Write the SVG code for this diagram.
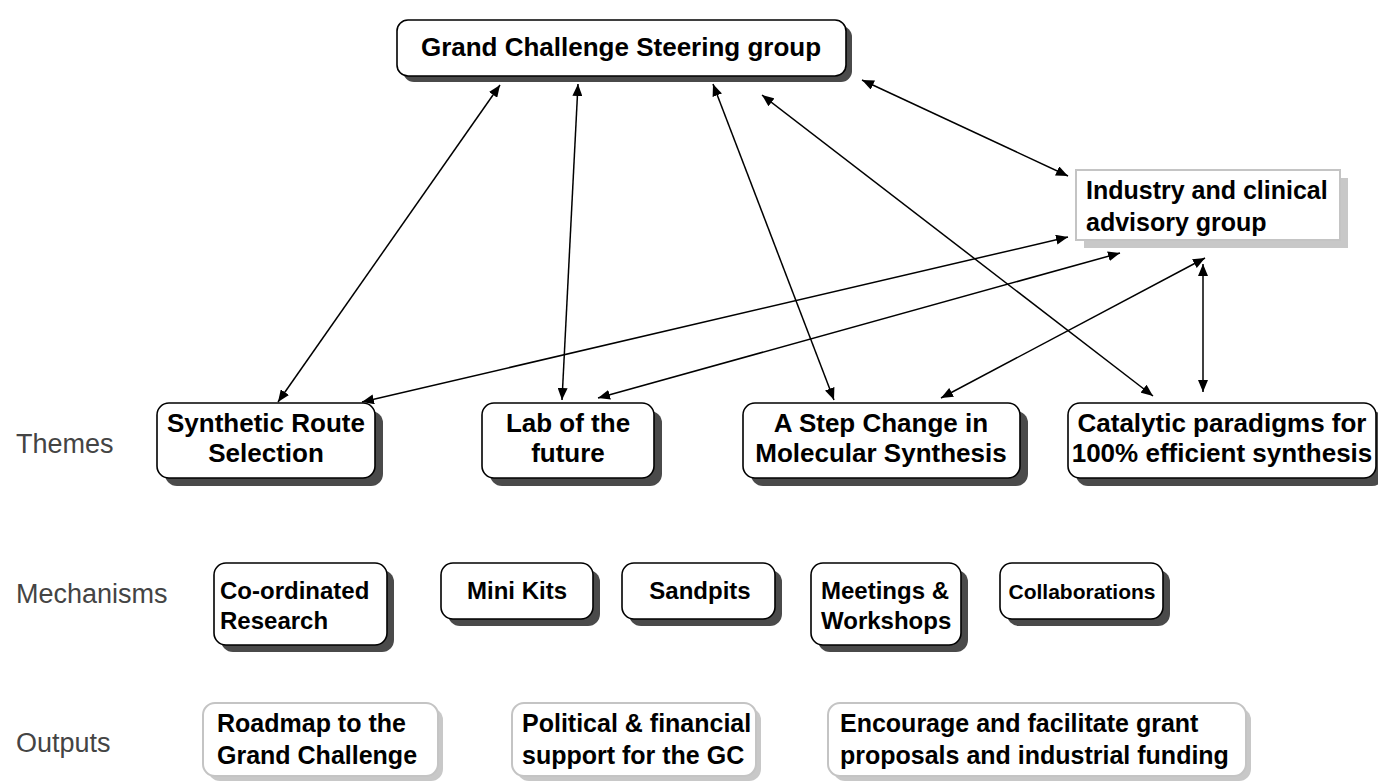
<svg xmlns="http://www.w3.org/2000/svg" width="1378" height="783" viewBox="0 0 1378 783">
<defs>
<marker id="ah" viewBox="0 0 12 10" refX="12" refY="5" markerWidth="12" markerHeight="10" markerUnits="userSpaceOnUse" orient="auto-start-reverse">
<path d="M0,0 L12,5 L0,10 Z" fill="#000"/>
</marker>
<style>
.box{fill:#fff;stroke:#000;stroke-width:1.6}
.sh{fill:#4a4a4a}
.obox{fill:#fff;stroke:#c4c4c4;stroke-width:2}
.osh{fill:#c8c8c8}
.t{font-family:"Liberation Sans",Arial,sans-serif;font-weight:bold;font-size:26px;fill:#000}
.m{font-size:24px}
.o{font-size:25px}
.lab{font-family:"Liberation Sans",Arial,sans-serif;font-size:27px;fill:#444}
.c{stroke:#000;stroke-width:1.5;fill:none;marker-start:url(#ah);marker-end:url(#ah)}
</style>
</defs>
<rect width="1378" height="783" fill="#fff"/>

<g id="connectors">
<line class="c" x1="500" y1="85" x2="278" y2="402"/>
<line class="c" x1="578" y1="84" x2="562" y2="400"/>
<line class="c" x1="713" y1="84" x2="834" y2="400"/>
<line class="c" x1="762" y1="95" x2="1153" y2="396"/>
<line class="c" x1="862" y1="80" x2="1068" y2="176"/>
<line class="c" x1="1068" y1="237" x2="362" y2="402"/>
<line class="c" x1="1120" y1="253" x2="598" y2="398"/>
<line class="c" x1="1205" y1="258" x2="941" y2="398"/>
<line class="c" x1="1203" y1="264" x2="1203" y2="392"/>
</g>

<g id="steering">
<rect class="sh" x="403" y="26" width="449" height="56" rx="11"/>
<rect class="box" x="397" y="20" width="449" height="56" rx="11"/>
<text class="t" x="621" y="56" text-anchor="middle">Grand Challenge Steering group</text>
</g>

<g id="advisory">
<rect class="osh" x="1084" y="178" width="264" height="70"/>
<rect class="obox" x="1076" y="170" width="264" height="70"/>
<text class="t" x="1086" y="199" style="font-size:25px">Industry and clinical</text>
<text class="t" x="1086" y="231" style="font-size:25px">advisory group</text>
</g>

<g id="label-themes"><text class="lab" x="16" y="453">Themes</text></g>
<g id="label-mechanisms"><text class="lab" x="16" y="603">Mechanisms</text></g>
<g id="label-outputs"><text class="lab" x="16" y="752">Outputs</text></g>

<g id="synthetic">
<rect class="sh" x="165" y="411" width="218" height="75" rx="12"/>
<rect class="box" x="157" y="403" width="218" height="75" rx="12"/>
<text class="t" x="266" y="432" text-anchor="middle">Synthetic Route</text>
<text class="t" x="266" y="462" text-anchor="middle">Selection</text>
</g>

<g id="lab">
<rect class="sh" x="490" y="411" width="172" height="75" rx="12"/>
<rect class="box" x="482" y="403" width="172" height="75" rx="12"/>
<text class="t" x="568" y="432" text-anchor="middle">Lab of the</text>
<text class="t" x="568" y="462" text-anchor="middle">future</text>
</g>

<g id="stepchange">
<rect class="sh" x="751" y="411" width="277" height="75" rx="12"/>
<rect class="box" x="743" y="403" width="277" height="75" rx="12"/>
<text class="t" x="881" y="432" text-anchor="middle">A Step Change in</text>
<text class="t" x="881" y="462" text-anchor="middle">Molecular Synthesis</text>
</g>

<g id="catalytic">
<rect class="sh" x="1076" y="411" width="308" height="75" rx="12"/>
<rect class="box" x="1068" y="403" width="308" height="75" rx="12"/>
<text class="t" x="1222" y="432" text-anchor="middle">Catalytic paradigms for</text>
<text class="t" x="1222" y="462" text-anchor="middle">100% efficient synthesis</text>
</g>

<g id="coordinated">
<rect class="sh" x="221" y="570" width="173" height="82" rx="12"/>
<rect class="box" x="214" y="563" width="173" height="82" rx="12"/>
<text class="t m" x="220" y="599">Co-ordinated</text>
<text class="t m" x="220" y="629">Research</text>
</g>

<g id="minikits">
<rect class="sh" x="448" y="570" width="152" height="56" rx="12"/>
<rect class="box" x="441" y="563" width="152" height="56" rx="12"/>
<text class="t m" x="517" y="599" text-anchor="middle">Mini Kits</text>
</g>

<g id="sandpits">
<rect class="sh" x="629" y="570" width="153" height="56" rx="12"/>
<rect class="box" x="622" y="563" width="153" height="56" rx="12"/>
<text class="t m" x="700" y="599" text-anchor="middle">Sandpits</text>
</g>

<g id="meetings">
<rect class="sh" x="818" y="570" width="150" height="82" rx="12"/>
<rect class="box" x="811" y="563" width="150" height="82" rx="12"/>
<text class="t m" x="821" y="599">Meetings &amp;</text>
<text class="t m" x="821" y="629">Workshops</text>
</g>

<g id="collaborations">
<rect class="sh" x="1007" y="570" width="163" height="56" rx="12"/>
<rect class="box" x="1000" y="563" width="163" height="56" rx="12"/>
<text class="t" x="1082" y="599" text-anchor="middle" style="font-size:21px">Collaborations</text>
</g>

<g id="roadmap">
<rect class="osh" x="208" y="708" width="235" height="73" rx="12"/>
<rect class="obox" x="203" y="703" width="235" height="73" rx="12"/>
<text class="t o" x="217" y="732">Roadmap to the</text>
<text class="t o" x="217" y="764">Grand Challenge</text>
</g>

<g id="support">
<rect class="osh" x="517" y="708" width="244" height="73" rx="12"/>
<rect class="obox" x="512" y="703" width="244" height="73" rx="12"/>
<text class="t o" x="522" y="732">Political &amp; financial</text>
<text class="t o" x="522" y="764">support for the GC</text>
</g>

<g id="encourage">
<rect class="osh" x="833" y="708" width="418" height="73" rx="12"/>
<rect class="obox" x="828" y="703" width="418" height="73" rx="12"/>
<text class="t o" x="840" y="732">Encourage and facilitate grant</text>
<text class="t o" x="840" y="764">proposals and industrial funding</text>
</g>
</svg>
